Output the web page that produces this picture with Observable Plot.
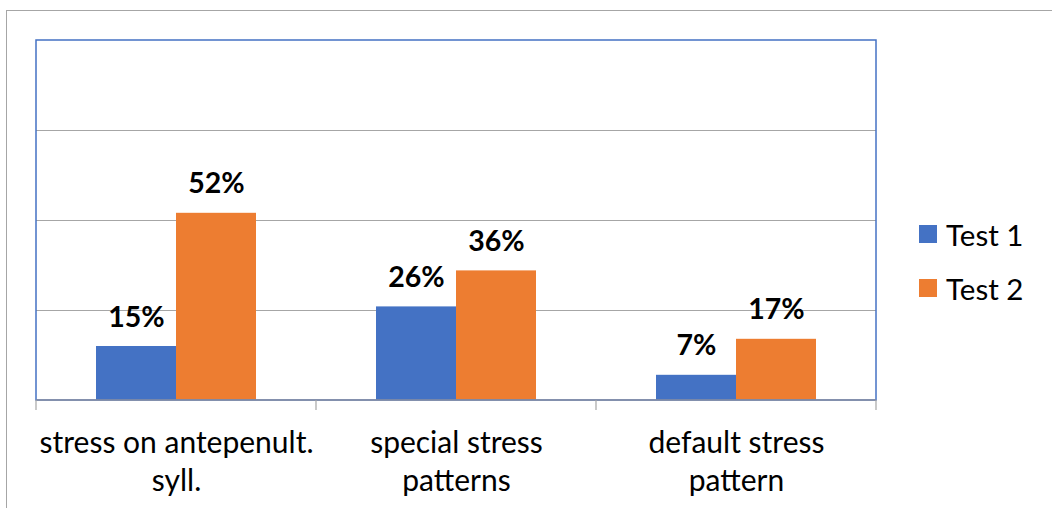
<!DOCTYPE html>
<html>
<head>
<meta charset="utf-8">
<script src="https://cdn.jsdelivr.net/npm/d3@7"></script>
<script src="https://cdn.jsdelivr.net/npm/@observablehq/plot@0.6"></script>
<style>
  html, body { margin: 0; padding: 0; background: #fff; }
  #wrap { position: relative; width: 1052px; height: 508px; overflow: hidden; font-family: Lato, "Noto Sans", sans-serif; }
  #border { position: absolute; left: 6px; top: 10px; right: -10px; bottom: -10px; border-top: 1.5px solid #a6a6a6; border-left: 1.5px solid #a6a6a6; }
  #chart { position: absolute; left: 0; top: 0; }
  #legend { position: absolute; left: 919px; top: 207px; font-size: 29.5px; color: #000; }
  .item { display: flex; align-items: center; height: 54px; }
  .sw { width: 18px; height: 18px; margin-right: 9px; }
</style>
</head>
<body>
<div id="wrap">
  <div id="border"></div>
  <div id="chart"></div>
  <div id="legend"></div>
</div>
<script>
const categories = ["stress on antepenult.\nsyll.", "special stress\npatterns", "default stress\npattern"];
const series = ["Test 1", "Test 2"];
const test1 = [15, 26, 7];
const test2 = [52, 36, 17];
const colors = ["#4472C4", "#ED7D31"];
const gridTicks = [25, 50, 75];

const data = [];
categories.forEach((c, i) => {
  data.push({category: c, series: series[0], value: test1[i]});
  data.push({category: c, series: series[1], value: test2[i]});
});

const plot = Plot.plot({
  width: 1052,
  height: 508,
  marginLeft: 36,
  marginRight: 176,
  marginTop: 40,
  marginBottom: 108,
  style: {fontFamily: "Lato, 'Noto Sans', sans-serif", background: "transparent", overflow: "visible"},
  fx: {domain: categories, padding: 0, label: null},
  x: {domain: series, paddingInner: 0, paddingOuter: 0.75, axis: null},
  y: {domain: [0, 100], axis: null},
  color: {domain: series, range: colors},
  marks: [
    Plot.ruleY(gridTicks, {stroke: "#a6a6a6", strokeWidth: 1.2, strokeOpacity: 1}),
    Plot.barY(data, {fx: "category", x: "series", y: "value", fill: "series", inset: 0}),
    Plot.text(data, {fx: "category", x: "series", y: "value", text: d => d.value + "%", lineAnchor: "bottom", dy: -20, fontSize: 28.5, fontWeight: "bold", fill: "#000"}),
    Plot.axisFx({anchor: "bottom", tickSize: 0, tickPadding: 26, fontSize: 30, lineHeight: 1.25, label: null, fill: "#000"})
  ]
});
document.getElementById("chart").appendChild(plot);

// frame and boundary ticks from Plot's own scales
const fx = plot.scale("fx");
const y = plot.scale("y");
const svg = d3.select(plot);
const x0 = fx.range[0], x1 = fx.range[1];
const yTop = y.apply(100), yBot = y.apply(0);
const g = svg.append("g");
g.append("rect").attr("x", x0).attr("y", yTop).attr("width", x1 - x0).attr("height", yBot - yTop)
  .attr("fill", "none").attr("stroke", "#4472C4").attr("stroke-width", 1.5);
g.append("line").attr("x1", x0).attr("x2", x1).attr("y1", yBot).attr("y2", yBot)
  .attr("stroke", "#8a8fa0").attr("stroke-width", 1.5);
const edges = fx.domain.map(c => fx.apply(c)).concat([fx.apply(fx.domain[fx.domain.length - 1]) + fx.bandwidth]);
edges.forEach(e => {
  g.append("line").attr("x1", e).attr("x2", e).attr("y1", yBot).attr("y2", yBot + 10)
    .attr("stroke", "#a6a6a6").attr("stroke-width", 1.2);
});

const legend = document.getElementById("legend");
series.forEach((s, i) => {
  const item = document.createElement("div");
  item.className = "item";
  item.innerHTML = `<div class="sw" style="background:${colors[i]}"></div><span>${s}</span>`;
  legend.appendChild(item);
});
</script>
</body>
</html>
